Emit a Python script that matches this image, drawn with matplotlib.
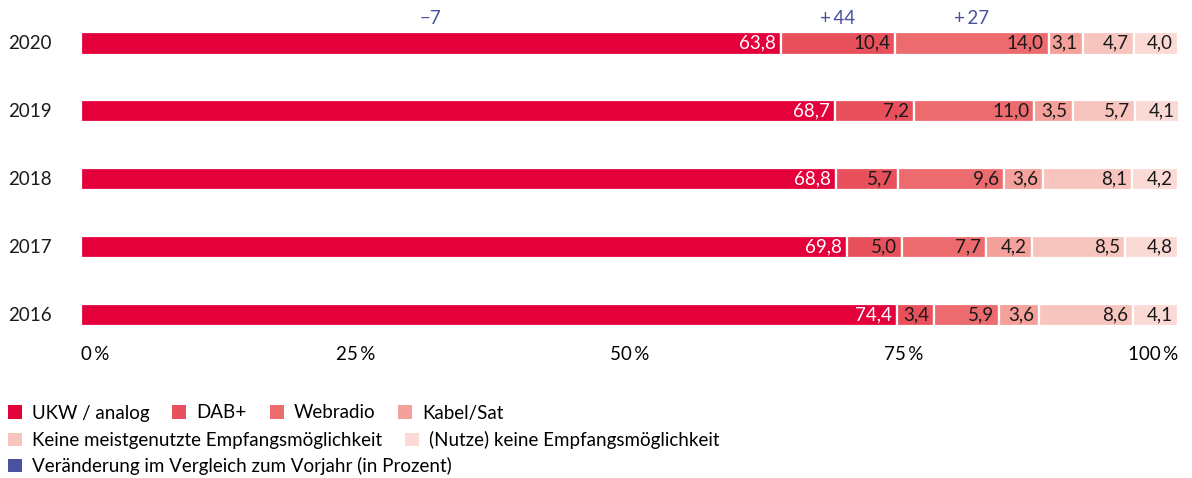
import matplotlib.pyplot as plt
import matplotlib.transforms as mtransforms
from matplotlib.patches import Patch
import numpy as np

plt.rcParams['font.family'] = ['Lato', 'DejaVu Sans']

years = ['2020', '2019', '2018', '2017', '2016']
categories = ['UKW / analog', 'DAB+', 'Webradio', 'Kabel/Sat',
              'Keine meistgenutzte Empfangsmöglichkeit',
              '(Nutze) keine Empfangsmöglichkeit']
ukw = [63.8, 68.7, 68.8, 69.8, 74.4]
dab = [10.4, 7.2, 5.7, 5.0, 3.4]
web = [14.0, 11.0, 9.6, 7.7, 5.9]
kabel = [3.1, 3.5, 3.6, 4.2, 3.6]
keine_meist = [4.7, 5.7, 8.1, 8.5, 8.6]
keine = [4.0, 4.1, 4.2, 4.8, 4.1]
# change vs previous year, shown above the 2020 bar (first three series)
changes_2020 = ['\u22127', '+\u200944', '+\u200927']
change_label = 'Veränderung im Vergleich zum Vorjahr (in Prozent)'
xticks = [0, 25, 50, 75, 100]
xticklabels = ['0\u2009%', '25\u2009%', '50\u2009%', '75\u2009%', '100\u2009%']

colors = ['#E4003A', '#E8505B', '#EC6B6E', '#F4A09B', '#F8C4BE', '#FBDAD5']
blue = '#4A52A0'
fs = 13.5

series = [ukw, dab, web, kabel, keine_meist, keine]

fig = plt.figure(figsize=(11.92, 4.78), dpi=100)
ax = fig.add_axes([81 / 1192, 1 - 345 / 478, 1097 / 1192, 335 / 478])

ypos = np.arange(len(years))[::-1]
left = np.zeros(len(years))
for i, vals in enumerate(series):
    vals = np.array(vals)
    ax.barh(ypos, vals, left=left, height=0.33, color=colors[i],
            edgecolor='white', linewidth=1.6)
    for y, l, v in zip(ypos, left, vals):
        ax.text(l + v - 0.45, y, f'{v:.1f}'.replace('.', ','),
                ha='right', va='center', fontsize=fs,
                color='white' if i == 0 else '#1a1a1a')
    if i < len(changes_2020):
        ax.text(left[0] + vals[0] / 2, ypos[0] + 0.37, changes_2020[i],
                ha='center', va='center', fontsize=fs, color=blue)
    left += vals

ax.set_xlim(0, 100)
ax.set_ylim(-0.44, 4.49)
for s in ax.spines.values():
    s.set_visible(False)
ax.set_yticks([])
ax.set_xticks(xticks)
ax.set_xticklabels(xticklabels, fontsize=fs)
ax.tick_params(axis='x', length=0, pad=1)
tl = ax.get_xticklabels()
tl[0].set_ha('left')
tl[-1].set_ha('right')

trans = mtransforms.blended_transform_factory(fig.transFigure, ax.transData)
for y, yr in zip(ypos, years):
    ax.text(8 / 1192, y, yr, transform=trans, ha='left', va='center',
            fontsize=fs, color='#1a1a1a')

rows = [[0, 1, 2, 3], [4, 5]]
row_y = [413, 440]
for r, yy in zip(rows, row_y):
    handles = [Patch(facecolor=colors[k], edgecolor='none', label=categories[k]) for k in r]
    fig.legend(handles=handles, loc='center left', bbox_to_anchor=(6 / 1192, 1 - yy / 478),
               ncol=len(r), frameon=False, fontsize=fs, handlelength=0.75,
               handleheight=0.75, handletextpad=0.55, columnspacing=1.2,
               borderaxespad=0, borderpad=0.1)
fig.legend(handles=[Patch(facecolor=blue, edgecolor='none', label=change_label)],
           loc='center left', bbox_to_anchor=(6 / 1192, 1 - 466 / 478), frameon=False,
           fontsize=fs, handlelength=0.75, handleheight=0.75, handletextpad=0.55,
           borderaxespad=0, borderpad=0.1)

fig.savefig('out.png', dpi=100)
